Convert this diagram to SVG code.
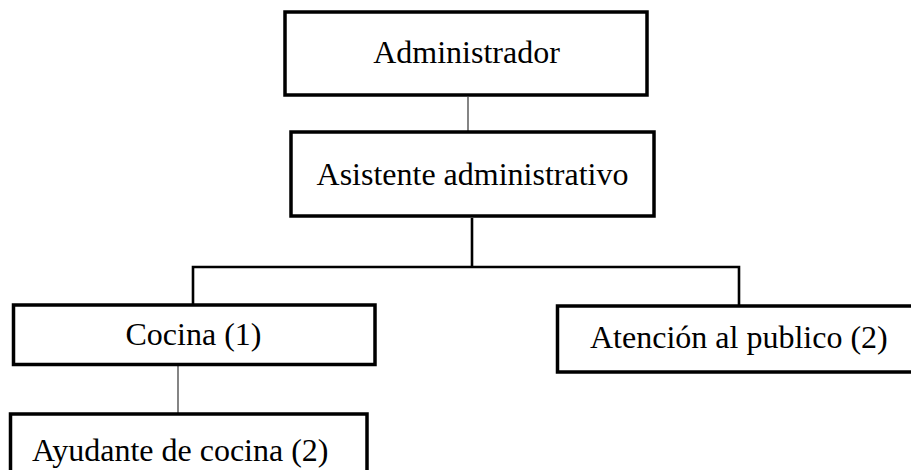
<svg xmlns="http://www.w3.org/2000/svg" width="911" height="470" viewBox="0 0 911 470">
<style>
.box{fill:#fff;stroke:#000;stroke-width:3.5}
.t{font-family:"Liberation Serif","Times New Roman",serif;font-size:32px;fill:#000}
.thin{stroke:#333;stroke-width:1.2;fill:none}
.thick{stroke:#000;stroke-width:2.6;fill:none}
</style>
<rect width="911" height="470" fill="#fff"/>
<g id="connectors">
<line class="thin" x1="468" y1="97" x2="468" y2="131"/>
<polyline class="thick" points="472,218 472,267"/>
<polyline class="thick" points="193,305 193,267 739,267 739,306"/>
<line class="thin" x1="178" y1="360" x2="178" y2="413"/>
</g>
<g id="n-administrador">
<rect class="box" x="285" y="12" width="362" height="83"/>
<text class="t" x="466.5" y="63" text-anchor="middle">Administrador</text>
</g>
<g id="n-asistente">
<rect class="box" x="291" y="132" width="363" height="84"/>
<text class="t" x="472.5" y="185" text-anchor="middle">Asistente administrativo</text>
</g>
<g id="n-cocina">
<rect class="box" x="13.5" y="305" width="361.5" height="59.5"/>
<text class="t" x="193.5" y="345" text-anchor="middle">Cocina (1)</text>
</g>
<g id="n-atencion">
<rect class="box" x="557.5" y="306" width="360" height="66"/>
<text class="t" x="590" y="348">Atención al publico (2)</text>
</g>
<g id="n-ayudante">
<rect class="box" x="10.5" y="414" width="356.5" height="70"/>
<text class="t" x="32" y="461">Ayudante de cocina (2)</text>
</g>
</svg>
